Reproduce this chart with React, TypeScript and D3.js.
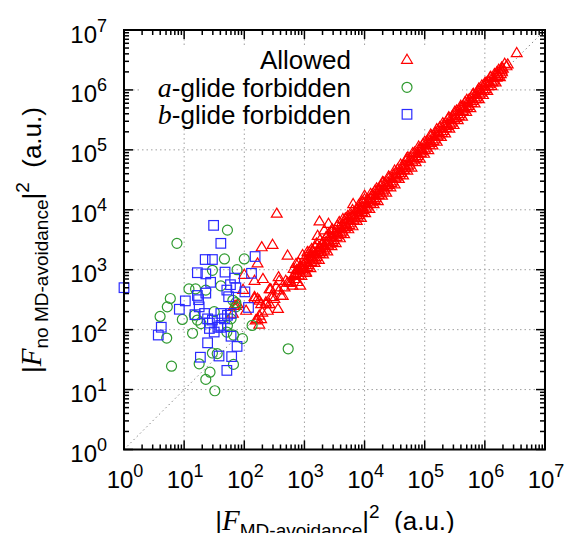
import React from 'react';
import * as d3 from 'd3';

// All values stored as log10 of the intensity (a.u.)
const decades = [0, 1, 2, 3, 4, 5, 6, 7];
const minorMultipliers = [2, 3, 4, 5, 6, 7, 8, 9];

const allowedScatterLog: [number, number][] = [
  [2.54, 3.94], [2.29, 3.38], [2.47, 3.42], [2.72, 3.24], [2.22, 3.11], [2.0, 2.92], [2.31, 2.85],
  [2.58, 2.82], [2.72, 2.79], [2.83, 2.92], [1.98, 2.67], [2.25, 2.49], [2.44, 2.68], [2.58, 2.66],
  [2.67, 2.71], [2.36, 2.43], [2.03, 2.32], [2.22, 2.18], [1.86, 2.4], [1.81, 2.27], [3.25, 3.81],
  [3.4, 3.77], [3.33, 3.66], [3.22, 3.57], [3.14, 3.21], [2.94, 3.04], [2.86, 2.95], [3.03, 2.96],
  [2.57, 2.88], [2.75, 2.79], [2.93, 2.74], [2.64, 2.57], [2.47, 2.55], [2.17, 2.55], [2.42, 2.43],
  [2.25, 2.24], [2.19, 2.16], [2.25, 2.09], [2.17, 2.52], [2.28, 2.43], [2.5, 2.52], [2.3, 2.29],
  [2.28, 2.18], [2.39, 2.32], [2.56, 2.35], [1.83, 2.4], [1.89, 2.43], [2.42, 2.68], [2.53, 2.71],
  [2.17, 2.82], [2.44, 2.55], [2.61, 2.57], [2.22, 2.52], [2.36, 2.46], [3.81, 4.1], [4.0, 4.24],
  [4.17, 4.32], [4.31, 4.46], [4.72, 4.88], [3.14, 3.32], [3.25, 3.38], [3.08, 3.24], [2.92, 3.05],
  [3.47, 3.66], [2.69, 2.82], [2.78, 2.79],
];

const allowedBandLowLog: [number, number][] = [
  [2.8, 2.74], [2.88, 2.8], [2.95, 2.9], [3.02, 2.95], [3.1, 3.03], [3.17, 3.12], [3.24, 3.17],
  [3.31, 3.26], [3.38, 3.31], [3.45, 3.4], [3.52, 3.45], [3.59, 3.53], [3.66, 3.6], [3.73, 3.68],
  [3.8, 3.73], [3.87, 3.82], [3.94, 3.87], [4.01, 3.95], [4.08, 4.02], [4.15, 4.1], [4.22, 4.15],
  [4.29, 4.24], [4.36, 4.29], [4.43, 4.38], [4.5, 4.43], [4.57, 4.52], [4.64, 4.58], [4.71, 4.66],
  [4.78, 4.71], [4.85, 4.8], [4.92, 4.86], [4.99, 4.94], [5.06, 5.0], [5.13, 5.08], [5.2, 5.14],
  [5.27, 5.22], [5.34, 5.28], [5.41, 5.36], [5.48, 5.42], [5.55, 5.5], [5.62, 5.56], [5.69, 5.64],
  [5.76, 5.7], [5.83, 5.78], [5.9, 5.85], [5.97, 5.92], [6.04, 5.99], [6.11, 6.07], [6.18, 6.13],
  [6.25, 6.22],
];

const allowedBandLowMidLog: [number, number][] = [
  [2.835, 2.85], [2.905, 2.91], [2.975, 2.99], [3.045, 3.05], [3.115, 3.13], [3.185, 3.19],
  [3.255, 3.27], [3.325, 3.33], [3.395, 3.41], [3.465, 3.47], [3.535, 3.55], [3.605, 3.61],
  [3.675, 3.69], [3.745, 3.75], [3.815, 3.83], [3.885, 3.89], [3.955, 3.97], [4.025, 4.03],
  [4.095, 4.11], [4.165, 4.17], [4.235, 4.25], [4.305, 4.31], [4.375, 4.39], [4.445, 4.45],
  [4.515, 4.53], [4.585, 4.59], [4.655, 4.67], [4.725, 4.73], [4.795, 4.81], [4.865, 4.87],
  [4.935, 4.95], [5.005, 5.01], [5.075, 5.09], [5.145, 5.15], [5.215, 5.23], [5.285, 5.29],
  [5.355, 5.37], [5.425, 5.43], [5.495, 5.51], [5.565, 5.57], [5.635, 5.65], [5.705, 5.71],
  [5.775, 5.79], [5.845, 5.85], [5.915, 5.93], [5.985, 5.99], [6.055, 6.07], [6.125, 6.13],
  [6.195, 6.21], [6.265, 6.27],
];

const allowedBandMidLog: [number, number][] = [
  [2.84, 2.93], [2.92, 3.0], [2.99, 3.08], [3.06, 3.12], [3.13, 3.22], [3.2, 3.27], [3.27, 3.36],
  [3.34, 3.4], [3.41, 3.49], [3.48, 3.55], [3.55, 3.63], [3.62, 3.68], [3.69, 3.77], [3.76, 3.83],
  [3.83, 3.91], [3.9, 3.96], [3.97, 4.05], [4.04, 4.1], [4.11, 4.19], [4.18, 4.24], [4.25, 4.33],
  [4.32, 4.38], [4.39, 4.46], [4.46, 4.52], [4.53, 4.6], [4.6, 4.66], [4.67, 4.74], [4.74, 4.8],
  [4.81, 4.88], [4.88, 4.94], [4.95, 5.02], [5.02, 5.08], [5.09, 5.16], [5.16, 5.22], [5.23, 5.3],
  [5.3, 5.36], [5.37, 5.44], [5.44, 5.5], [5.51, 5.58], [5.58, 5.64], [5.65, 5.72], [5.72, 5.78],
  [5.79, 5.86], [5.86, 5.92], [5.93, 6.0], [6.0, 6.06], [6.07, 6.14], [6.14, 6.2], [6.21, 6.27],
  [6.28, 6.33],
];

const allowedBandMid2Log: [number, number][] = [
  [2.855, 2.9], [2.925, 2.95], [2.995, 3.02], [3.065, 3.08], [3.135, 3.16], [3.205, 3.22],
  [3.275, 3.3], [3.345, 3.36], [3.415, 3.44], [3.485, 3.5], [3.555, 3.58], [3.625, 3.64],
  [3.695, 3.72], [3.765, 3.78], [3.835, 3.86], [3.905, 3.92], [3.975, 4.0], [4.045, 4.06],
  [4.115, 4.14], [4.185, 4.2], [4.255, 4.28], [4.325, 4.34], [4.395, 4.42], [4.465, 4.48],
  [4.535, 4.56], [4.605, 4.62], [4.675, 4.7], [4.745, 4.76], [4.815, 4.84], [4.885, 4.9],
  [4.955, 4.98], [5.025, 5.04], [5.095, 5.12], [5.165, 5.18], [5.235, 5.26], [5.305, 5.32],
  [5.375, 5.4], [5.445, 5.46], [5.515, 5.54], [5.585, 5.6], [5.655, 5.68], [5.725, 5.74],
  [5.795, 5.82], [5.865, 5.88], [5.935, 5.96], [6.005, 6.02], [6.075, 6.1], [6.145, 6.16],
  [6.215, 6.24], [6.285, 6.3],
];

const allowedBandUpperMidLog: [number, number][] = [
  [2.87, 3.0], [2.94, 3.06], [3.01, 3.14], [3.08, 3.19], [3.15, 3.28], [3.22, 3.33], [3.29, 3.42],
  [3.36, 3.47], [3.43, 3.56], [3.5, 3.61], [3.57, 3.7], [3.64, 3.75], [3.71, 3.84], [3.78, 3.89],
  [3.85, 3.98], [3.92, 4.03], [3.99, 4.12], [4.06, 4.17], [4.13, 4.26], [4.2, 4.31], [4.27, 4.4],
  [4.34, 4.45], [4.41, 4.54], [4.48, 4.59], [4.55, 4.68], [4.62, 4.73], [4.69, 4.82], [4.76, 4.87],
  [4.83, 4.96], [4.9, 5.01], [4.97, 5.1], [5.04, 5.15], [5.11, 5.24], [5.18, 5.29], [5.25, 5.38],
  [5.32, 5.43], [5.39, 5.52], [5.46, 5.57], [5.53, 5.66], [5.6, 5.71], [5.67, 5.8], [5.74, 5.85],
  [5.81, 5.94], [5.88, 5.99], [5.95, 6.08], [6.02, 6.13], [6.09, 6.22], [6.16, 6.27], [6.23, 6.34],
];

const allowedBandHighLog: [number, number][] = [
  [2.86, 3.1], [2.97, 3.25], [3.08, 3.3], [3.18, 3.38], [3.26, 3.5], [3.36, 3.55], [3.46, 3.68],
  [3.55, 3.74], [3.64, 3.85], [3.72, 3.9], [3.8, 4.0], [3.9, 4.08], [4.0, 4.18], [4.1, 4.27],
  [4.2, 4.36], [4.3, 4.47], [4.4, 4.56], [4.5, 4.66], [4.6, 4.76], [4.7, 4.86], [4.8, 4.95],
  [4.9, 5.06], [5.0, 5.14], [5.1, 5.26], [5.2, 5.35], [5.3, 5.45], [5.4, 5.55], [5.5, 5.64],
  [5.6, 5.74], [5.7, 5.84], [5.8, 5.93], [5.9, 6.03], [6.0, 6.12], [6.1, 6.22], [6.2, 6.3],
  [6.28, 6.38], [6.33, 6.44], [6.36, 6.4], [6.3, 6.36], [6.38, 6.43], [6.53, 6.62],
  [2.82, 3.02], [2.9, 3.12], [3.0, 3.18], [3.05, 3.3], [3.12, 3.35], [3.2, 3.44], [3.3, 3.45],
  [3.4, 3.6], [3.5, 3.62], [3.58, 3.8], [3.68, 3.86], [3.78, 3.92], [3.88, 4.02], [3.96, 4.14],
];

const aGlideLog: [number, number][] = [
  [0.88, 3.44], [1.72, 3.66], [1.67, 3.18], [2.0, 3.18], [1.88, 3.0], [1.47, 2.99], [1.08, 2.68],
  [0.77, 2.52], [0.72, 2.38], [0.6, 2.22], [0.97, 2.17], [1.17, 2.24], [1.19, 2.68], [1.61, 2.73],
  [1.81, 2.49], [1.86, 2.38], [1.78, 2.18], [1.72, 2.07], [1.14, 1.94], [0.71, 1.86], [1.71, 1.96],
  [1.82, 1.91], [1.97, 1.85], [2.13, 2.07], [1.47, 1.61], [2.73, 1.68], [1.25, 1.43], [1.82, 1.42],
  [0.79, 1.39], [1.43, 1.29], [1.36, 1.17], [1.51, 0.98], [1.36, 2.66], [1.86, 2.45], [1.55, 1.6],
  [1.22, 2.16], [1.28, 2.1], [1.5, 2.3],
];

const bGlideLog: [number, number][] = [
  [0.0, 2.7], [1.49, 3.74], [1.61, 3.44], [1.35, 3.17], [1.47, 3.17], [2.18, 3.22], [1.22, 2.95],
  [1.36, 2.93], [1.68, 2.96], [2.12, 2.94], [1.44, 2.79], [1.84, 2.86], [1.77, 2.75], [1.71, 2.66],
  [2.01, 2.63], [1.74, 2.55], [1.22, 2.57], [1.02, 2.48], [1.24, 2.5], [1.36, 2.61], [0.92, 2.34],
  [1.25, 2.38], [1.34, 2.27], [1.39, 2.18], [1.61, 2.27], [1.78, 2.27], [2.07, 2.37], [1.42, 2.11],
  [1.56, 2.04], [1.61, 2.04], [1.5, 1.96], [0.62, 2.04], [0.57, 1.91], [1.39, 1.78], [1.88, 1.72],
  [1.27, 1.54], [1.58, 1.56], [1.79, 1.55], [1.71, 1.32], [1.86, 2.7], [1.67, 2.18], [1.47, 2.16],
  [1.18, 2.25], [1.78, 1.89], [1.61, 2.07], [1.42, 2.02], [1.72, 2.24],
];

const allowedLog = [
  ...allowedScatterLog,
  ...allowedBandLowLog,
  ...allowedBandLowMidLog,
  ...allowedBandMidLog,
  ...allowedBandMid2Log,
  ...allowedBandUpperMidLog,
  ...allowedBandHighLog,
];

const RED = '#ff0000';
const GREEN = '#2f9a2f';
const BLUE = '#2b2bff';
const SANS = '"Liberation Sans", Arial, Helvetica, sans-serif';
const SERIF = '"Liberation Serif", "Times New Roman", serif';

const X0 = 124, X1 = 545, Y0 = 449.5, Y1 = 30;

function tri(cx: number, cy: number) {
  return `M${cx},${cy - 5.3}L${cx + 5.4},${cy + 3.8}L${cx - 5.4},${cy + 3.8}Z`;
}

export default function App() {
  const x = d3.scaleLog().domain([1, 1e7]).range([X0, X1]);
  const y = d3.scaleLog().domain([1, 1e7]).range([Y0, Y1]);
  const p = (v: number) => Math.pow(10, v);

  const minors: number[] = [];
  decades.slice(0, 7).forEach((d) => minorMultipliers.forEach((m) => minors.push(m * Math.pow(10, d))));

  const gridColor = '#a0a0a0';
  const dash = '1.5,3';

  return (
    <svg width={567} height={533} style={{ position: 'absolute', left: 0, top: 0, background: '#fff' }}>
      {/* grid */}
      {decades.slice(1, 7).map((d) => (
        <g key={'g' + d}>
          <line x1={x(p(d))} x2={x(p(d))} y1={Y1} y2={Y0} stroke={gridColor} strokeDasharray={dash} strokeWidth={1} />
          <line x1={X0} x2={X1} y1={y(p(d))} y2={y(p(d))} stroke={gridColor} strokeDasharray={dash} strokeWidth={1} />
        </g>
      ))}
      {/* diagonal y = x */}
      <line x1={x(1)} y1={y(1)} x2={x(1e7)} y2={y(1e7)} stroke="#888" strokeDasharray="1.5,3" strokeWidth={1} />
      {/* legend background */}
      <rect x={140} y={45} width={322} height={83} fill="#fff" />
      {/* data */}
      <g fill="none" stroke={RED} strokeWidth={1.2}>
        {allowedLog.map(([a, b], i) => (
          <path key={'r' + i} d={tri(x(p(a)), y(p(b)))} />
        ))}
      </g>
      <g fill="none" stroke={GREEN} strokeWidth={1.2}>
        {aGlideLog.map(([a, b], i) => (
          <circle key={'c' + i} cx={x(p(a))} cy={y(p(b))} r={5} />
        ))}
      </g>
      <g fill="none" stroke={BLUE} strokeWidth={1.2}>
        {bGlideLog.map(([a, b], i) => (
          <rect key={'s' + i} x={x(p(a)) - 4.8} y={y(p(b)) - 4.8} width={9.6} height={9.6} />
        ))}
      </g>
      {/* frame */}
      <rect x={X0} y={Y1} width={X1 - X0} height={Y0 - Y1} fill="none" stroke="#000" strokeWidth={2} />
      {/* ticks */}
      <g stroke="#000" strokeWidth={1.5}>
        {decades.map((d) => (
          <g key={'t' + d}>
            <line x1={x(p(d))} x2={x(p(d))} y1={Y0} y2={Y0 - 9} />
            <line x1={x(p(d))} x2={x(p(d))} y1={Y1} y2={Y1 + 9} />
            <line x1={X0} x2={X0 + 9} y1={y(p(d))} y2={y(p(d))} />
            <line x1={X1} x2={X1 - 9} y1={y(p(d))} y2={y(p(d))} />
          </g>
        ))}
        {minors.map((v, i) => (
          <g key={'m' + i}>
            <line x1={x(v)} x2={x(v)} y1={Y0} y2={Y0 - 5} />
            <line x1={x(v)} x2={x(v)} y1={Y1} y2={Y1 + 5} />
            <line x1={X0} x2={X0 + 5} y1={y(v)} y2={y(v)} />
            <line x1={X1} x2={X1 - 5} y1={y(v)} y2={y(v)} />
          </g>
        ))}
      </g>
      {/* tick labels */}
      <g fontFamily={SANS} fill="#000">
        {decades.map((d) => (
          <text key={'xl' + d} x={x(p(d)) + 1} y={488} textAnchor="middle" fontSize={24}>
            10<tspan fontSize={18} dy={-11}>{d}</tspan>
          </text>
        ))}
        {decades.map((d) => (
          <text key={'yl' + d} x={107} y={y(p(d)) + 12.5} textAnchor="end" fontSize={24}>
            10<tspan fontSize={18} dy={-11}>{d}</tspan>
          </text>
        ))}
      </g>
      {/* axis titles */}
      <text x={335} y={530} textAnchor="middle" fontFamily={SANS} fontSize={26}>
        |<tspan fontFamily={SERIF} fontStyle="italic" fontSize={29}>F</tspan>
        <tspan fontSize={19} dy={7}>MD-avoidance</tspan>
        <tspan dy={-7}>|</tspan>
        <tspan fontSize={19} dy={-12}>2</tspan>
        <tspan dy={12}>{'\u00a0\u00a0(a.u.)'}</tspan>
      </text>
      <text transform="translate(41,240) rotate(-90)" textAnchor="middle" fontFamily={SANS} fontSize={26}>
        |<tspan fontFamily={SERIF} fontStyle="italic" fontSize={29}>F</tspan>
        <tspan fontSize={19} dy={7}>no MD-avoidance</tspan>
        <tspan dy={-7}>|</tspan>
        <tspan fontSize={19} dy={-12}>2</tspan>
        <tspan dy={12}>{'\u00a0\u00a0(a.u.)'}</tspan>
      </text>
      {/* legend */}
      <g fontFamily={SANS} fontSize={26}>
        <text x={351} y={68.5} textAnchor="end">Allowed</text>
        <text x={351} y={96.5} textAnchor="end">
          <tspan fontFamily={SERIF} fontStyle="italic" fontSize={28}>a</tspan>-glide forbidden
        </text>
        <text x={351} y={123.5} textAnchor="end">
          <tspan fontFamily={SERIF} fontStyle="italic" fontSize={28}>b</tspan>-glide forbidden
        </text>
        <path d={tri(407, 59.5)} fill="none" stroke={RED} strokeWidth={1.2} />
        <circle cx={407} cy={87.3} r={5} fill="none" stroke={GREEN} strokeWidth={1.2} />
        <rect x={407 - 4.8} y={114.3 - 4.8} width={9.6} height={9.6} fill="none" stroke={BLUE} strokeWidth={1.2} />
      </g>
    </svg>
  );
}
